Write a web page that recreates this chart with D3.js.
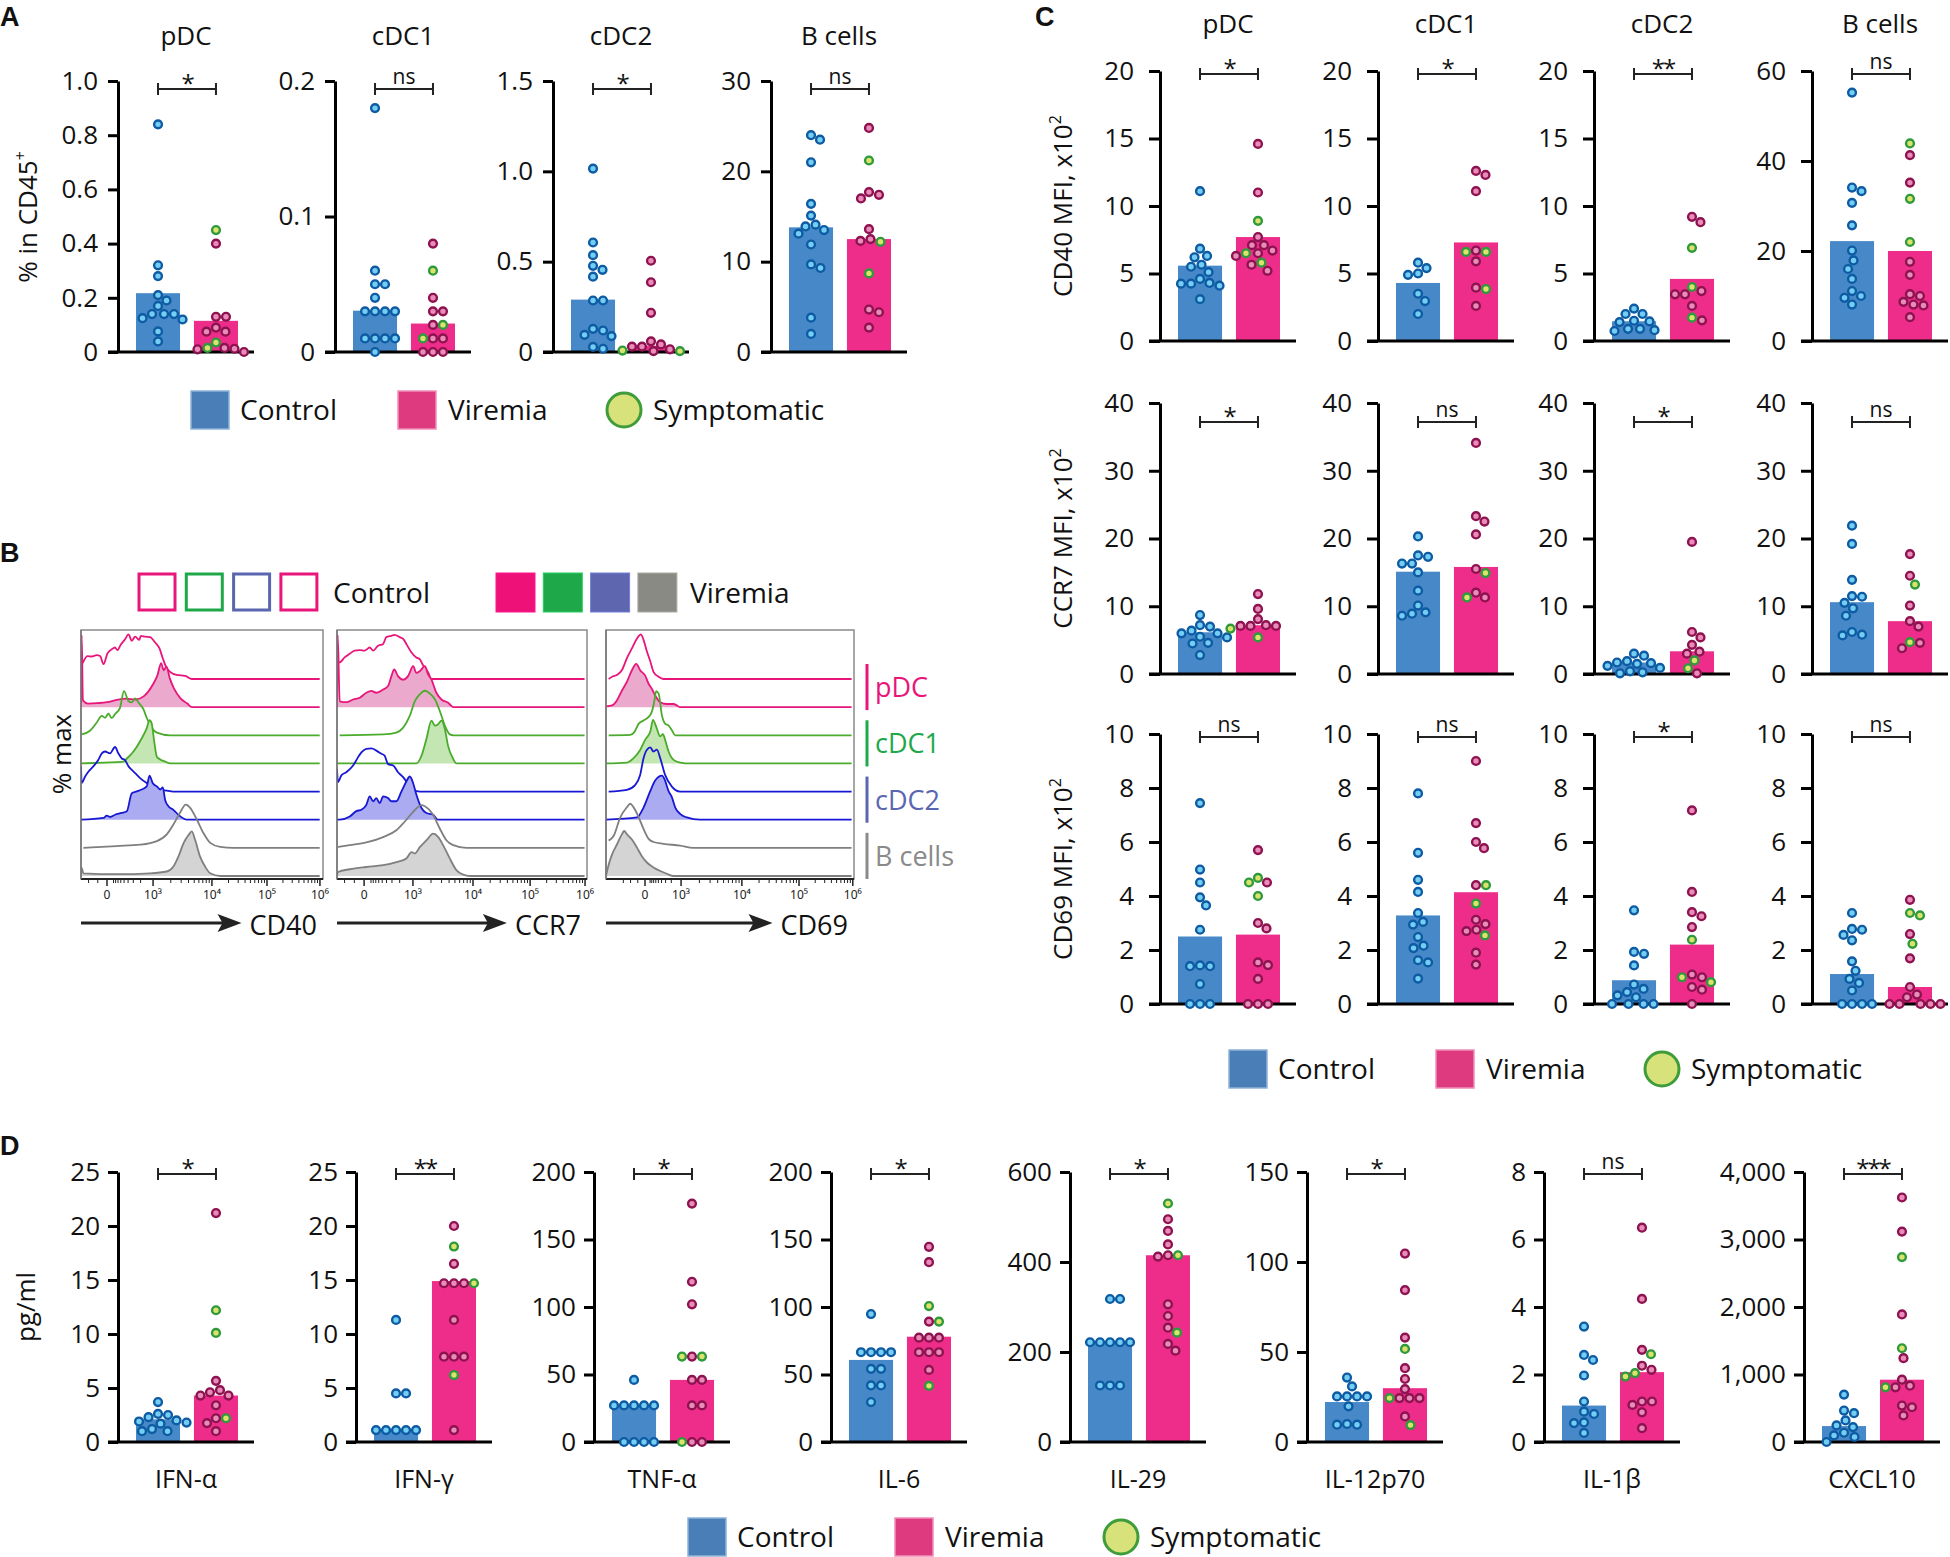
<!DOCTYPE html>
<html><head><meta charset="utf-8">
<script src="https://cdn.jsdelivr.net/npm/d3@7"></script>
<style>body{margin:0;background:#fff;} svg{display:block;}</style>
</head><body><svg id="fig" width="1950" height="1557"></svg>
<script>
// ================= DATA =================
const groups = ["Control", "Viremia"];

// ---- Panel A : % in CD45+ ----
const aCells = ["pDC", "cDC1", "cDC2", "B cells"];
const aYMax = [1.0, 0.2, 1.5, 30];
const aTicks = [[0, 0.2, 0.4, 0.6, 0.8, 1.0], [0, 0.1, 0.2], [0, 0.5, 1.0, 1.5], [0, 10, 20, 30]];
const aTickLabels = [["0", "0.2", "0.4", "0.6", "0.8", "1.0"], ["0", "0.1", "0.2"], ["0", "0.5", "1.0", "1.5"], ["0", "10", "20", "30"]];
const aControl = [
  [0.84, 0.32, 0.28, 0.21, 0.19, 0.17, 0.14, 0.14, 0.14, 0.125, 0.12, 0.076, 0.039],
  [0.18, 0.06, 0.05, 0.05, 0.04, 0.03, 0.03, 0.03, 0.03, 0.01, 0.01, 0.01, 0.01, 0.0],
  [1.015, 0.606, 0.536, 0.477, 0.455, 0.417, 0.285, 0.285, 0.128, 0.119, 0.095, 0.088, 0.028, 0.018],
  [24.0, 23.5, 21.0, 16.4, 15.1, 14.1, 13.9, 13.5, 13.1, 11.9, 9.7, 9.3, 3.8, 2.0]];
const aViremia = [
  [0.40, 0.13, 0.13, 0.09, 0.075, 0.075, 0.012, 0.015, 0.01, 0.0],
  [0.08, 0.04, 0.03, 0.03, 0.02, 0.01, 0.01, 0, 0, 0],
  [0.505, 0.386, 0.217, 0.059, 0.042, 0.03, 0.03, 0.005, 0.015],
  [24.8, 17.7, 17.4, 17.0, 13.6, 12.5, 12.3, 4.7, 4.4, 2.7]];
const aSymptomatic = [[0.45, 0.035, 0.015], [0.06, 0.02, 0.01], [0.008, 0.005], [21.2, 12.2, 8.7]];
const aBarControl = [0.217, 0.0305, 0.29, 13.8];
const aBarViremia = [0.115, 0.021, 0.035, 12.5];
const aSig = ["*", "ns", "*", "ns"];

// ---- Panel C : MFI x10^2 ----
const cCells = ["pDC", "cDC1", "cDC2", "B cells"];
const cMarkers = ["CD40", "CCR7", "CD69"];
const cYMax = [[20, 20, 20, 60], [40, 40, 40, 40], [10, 10, 10, 10]];
const cTicks = [[[0,5,10,15,20],[0,5,10,15,20],[0,5,10,15,20],[0,20,40,60]],
                [[0,10,20,30,40],[0,10,20,30,40],[0,10,20,30,40],[0,10,20,30,40]],
                [[0,2,4,6,8,10],[0,2,4,6,8,10],[0,2,4,6,8,10],[0,2,4,6,8,10]]];
const cd40Control = [
  [11.1, 6.84, 6.3, 6.2, 5.65, 5.5, 5.1, 4.6, 4.3, 4.25, 4.25, 4.1, 3.1],
  [5.8, 5.4, 5.0, 4.9, 3.5, 2.96, 2.0],
  [2.4, 2.0, 2.0, 1.5, 1.45, 1.4, 0.9, 0.9, 0.8, 0.74],
  [55.2, 34.1, 33.3, 30.7, 25.7, 20.1, 17.9, 16.0, 13.8, 11.1, 10.0, 9.6, 8.1]];
const cd40Viremia = [
  [14.6, 11.0, 7.7, 7.1, 7.1, 6.7, 6.5, 6.3, 5.65, 5.2],
  [12.6, 12.3, 11.1, 6.7, 5.9, 3.95, 2.6],
  [9.2, 8.8, 3.7, 3.46, 3.46, 2.6, 1.53],
  [41.3, 35.2, 17.6, 14.7, 10.4, 10.0, 8.7, 8.1, 7.9, 5.3]];
const cd40Symptomatic = [[8.9, 6.5, 5.8], [6.6, 6.6, 3.85], [6.9, 4.0, 1.73], [43.9, 31.6, 22.0]];
const cd40BarControl = [5.58, 4.3, 1.46, 22.2];
const cd40BarViremia = [7.7, 7.3, 4.6, 20.0];
const cd40Sig = ["*", "*", "**", "ns"];

const ccr7Control = [
  [8.7, 7.2, 7.0, 6.4, 6.0, 6.0, 5.5, 5.4, 4.6, 4.5, 2.8],
  [20.3, 17.5, 17.3, 16.3, 16.3, 15.0, 12.3, 10.1, 9.1, 8.9, 8.6],
  [3.0, 2.7, 1.9, 1.7, 1.6, 1.5, 1.2, 0.9, 0.4, 0.25, 0.1],
  [21.9, 19.2, 13.9, 11.5, 11.4, 10.5, 9.7, 8.6, 6.2, 5.8, 5.7]];
const ccr7Viremia = [
  [11.8, 9.6, 8.1, 7.2, 7.1, 7.1, 7.1],
  [34.1, 23.3, 22.5, 20.6, 15.5, 12.0, 11.3],
  [19.5, 6.2, 5.4, 4.3, 3.3, 3.0, 0.1],
  [17.7, 14.5, 10.1, 7.8, 7.0, 4.6, 3.8]];
const ccr7Symptomatic = [[6.7, 5.4], [14.9, 11.3], [2.0, 0.85], [13.2, 4.7]];
const ccr7BarControl = [6.16, 15.1, 1.7, 10.6];
const ccr7BarViremia = [7.2, 15.8, 3.35, 7.8];
const ccr7Sig = ["*", "ns", "*", "ns"];

const cd69Control = [
  [7.44, 4.98, 4.5, 3.95, 3.65, 2.75, 1.43, 1.4, 1.4, 0.74, 0, 0, 0],
  [7.8, 5.6, 4.6, 4.15, 3.37, 3.04, 2.94, 2.48, 2.16, 2.07, 1.62, 1.54, 0.94],
  [3.47, 1.93, 1.86, 1.43, 0.72, 0.56, 0.44, 0.32, 0.25, 0, 0, 0, 0],
  [3.37, 2.78, 2.75, 2.56, 2.36, 1.58, 1.23, 0.93, 0.78, 0.5, 0, 0, 0, 0]];
const cd69Viremia = [
  [5.7, 4.5, 3.0, 2.8, 1.54, 1.44, 0.93, 0, 0, 0],
  [9.0, 6.7, 6.0, 5.77, 4.4, 3.12, 2.96, 2.75, 2.7, 1.9, 1.46],
  [7.17, 4.15, 3.4, 3.25, 2.85, 1.09, 0.99, 0.63, 0.53, 0],
  [3.86, 2.59, 1.69, 0.63, 0.35, 0.25, 0, 0, 0, 0, 0]];
const cd69Symptomatic = [[4.67, 4.5, 4.0], [4.4, 3.72, 2.54], [2.38, 0.99, 0.81], [3.37, 3.28, 2.23]];
const cd69BarControl = [2.5, 3.28, 0.88, 1.11];
const cd69BarViremia = [2.57, 4.14, 2.2, 0.63];
const cd69Sig = ["ns", "ns", "*", "ns"];

// ---- Panel D : cytokines, pg/ml ----
const dCytokines = ["IFN-α", "IFN-γ", "TNF-α", "IL-6", "IL-29", "IL-12p70", "IL-1β", "CXCL10"];
const dYMax = [25, 25, 200, 200, 600, 150, 8, 4000];
const dTicks = [[0,5,10,15,20,25],[0,5,10,15,20,25],[0,50,100,150,200],[0,50,100,150,200],
                [0,200,400,600],[0,50,100,150],[0,2,4,6,8],[0,1000,2000,3000,4000]];
const dTickLabels = [["0","5","10","15","20","25"],["0","5","10","15","20","25"],["0","50","100","150","200"],
                ["0","50","100","150","200"],["0","200","400","600"],["0","50","100","150"],["0","2","4","6","8"],
                ["0","1,000","2,000","3,000","4,000"]];
const dControl = [
  [3.7, 2.6, 2.5, 2.3, 2.0, 1.9, 1.8, 1.7, 1.2, 1.0, 1.0],
  [11.3, 4.5, 4.5, 1.1, 1.1, 1.1, 1.1, 1.1],
  [46, 27.1, 27.1, 27.1, 27.1, 27.1, 0, 0, 0, 0],
  [94.8, 66.5, 66.5, 66.5, 66.5, 54.2, 54.2, 41.9, 41.9, 29.6],
  [317.8, 317.8, 221.7, 221.7, 221.7, 221.7, 221.7, 125.6, 125.6, 125.6],
  [35.8, 30.9, 25.3, 25.3, 25.3, 25.3, 19.8, 10, 9.6, 9.6],
  [3.42, 2.58, 2.43, 1.97, 1.2, 0.9, 0.83, 0.58, 0.56, 0.27],
  [702, 466, 427, 319, 245, 221, 137, 98, 74, 0]];
const dViremia = [
  [21.2, 5.66, 4.8, 4.6, 4.3, 4.3, 3.4, 2.2, 1.75, 1.0],
  [20.0, 16.5, 14.7, 14.7, 14.7, 11.3, 7.9, 7.9, 7.9, 1.1],
  [176.6, 118.7, 102, 63.3, 46, 46, 27.1, 27.1, 0, 0],
  [144.6, 133.2, 89.2, 77.3, 77.3, 77.3, 66.5, 66.5, 66.5, 53.4],
  [495, 469, 439, 415, 412, 306, 280, 254, 218, 203],
  [104.7, 84.4, 58, 41, 35, 29.4, 24.4, 24.4, 24.4, 14.2],
  [6.35, 4.24, 2.73, 2.26, 2.14, 1.2, 1.2, 1.1, 0.88, 0.41],
  [3622, 3117, 1890, 1242, 923, 834, 810, 540, 515, 393]];
const dSymptomatic = [[12.2, 10.1, 2.2], [18.1, 14.7, 6.2], [63.3, 63.3, 0], [100.7, 89.2, 41.6],
                      [530, 415, 243], [51.7, 24.4, 9.4], [2.6, 2.04, 1.94], [2739, 1389, 810]];
const dBarControl = [2.1, 1.14, 27.6, 60.8, 224.7, 22.2, 1.08, 236];
const dBarViremia = [4.3, 14.9, 46, 78, 415, 29.9, 2.07, 923];
const dSig = ["*", "**", "*", "*", "*", "*", "ns", "***"];

// ---- Panel B : flow histograms, [display channel (0-1024), % max] ----
const histTraceNames = ["pDC Control", "pDC Viremia", "cDC1 Control", "cDC1 Viremia", "cDC2 Control", "cDC2 Viremia", "B cells Control", "B cells Viremia"];
const histMarkers = ["CD40", "CCR7", "CD69"];
const histTickLabels = ["0", "10³", "10⁴", "10⁵", "10⁶"];
const histTickChannels = [[110, 305, 554, 787, 1011], [111, 311, 557, 791, 1016], [161, 310, 561, 797, 1019]];
const histCD40 = [
  [[7,35],[27,51],[45,50],[66,53],[81,51],[95,33],[112,57],[130,66],[144,70],[154,64],[168,76],[186,88],[201,99],[215,85],[229,94],[247,87],[253,96],[271,94],[292,93],[314,81],[332,68],[346,46],[360,27],[377,16],[405,9],[441,7],[469,0],[1010,0]],
  [[0,0],[3,160],[8,15],[30,8],[70,9],[110,11],[150,16],[190,19],[230,17],[265,24],[306,52],[323,70],[339,98],[350,82],[362,90],[375,65],[395,40],[420,20],[450,8],[470,0],[1010,0]],
  [[3,2],[38,10],[66,28],[88,43],[102,39],[116,48],[130,38],[144,47],[165,61],[182,98],[201,76],[215,73],[229,82],[243,73],[264,58],[278,39],[299,17],[321,6],[377,0],[1010,0]],
  [[0,0],[100,2],[179,4],[194,11],[215,22],[236,37],[257,56],[278,78],[290,96],[299,89],[309,52],[321,15],[335,9],[356,4],[377,0],[1010,0]],
  [[0,55],[3,19],[17,33],[31,44],[52,56],[73,70],[88,85],[102,89],[123,85],[144,99],[158,85],[172,74],[186,70],[201,56],[215,48],[229,41],[250,30],[278,19],[306,11],[335,5],[363,2],[391,0],[1010,0]],
  [[0,0],[95,4],[109,9],[123,6],[144,11],[172,15],[194,19],[215,59],[236,63],[257,67],[278,74],[290,98],[304,81],[321,74],[335,67],[346,72],[356,44],[370,30],[391,22],[412,11],[448,0],[1010,0]],
  [[10,0],[151,4],[250,7],[321,15],[363,30],[391,52],[419,78],[443,96],[462,89],[490,63],[518,33],[547,11],[589,2],[645,0],[1010,0]],
  [[0,0],[3,18],[10,6],[151,4],[292,6],[363,10],[391,21],[412,43],[434,73],[455,91],[469,99],[483,80],[504,43],[525,21],[547,6],[589,0],[1010,0]]];
const histCCR7 = [
  [[4,37],[11,37],[31,48],[52,56],[72,63],[93,64],[113,63],[134,70],[148,63],[168,74],[189,78],[202,93],[223,96],[236,98],[257,93],[271,89],[284,78],[305,59],[325,48],[339,44],[353,30],[373,15],[387,0],[1014,0]],
  [[0,0],[3,160],[11,13],[38,11],[66,17],[93,21],[120,32],[141,36],[161,32],[189,39],[209,47],[223,69],[234,84],[250,69],[271,61],[291,69],[312,91],[325,76],[339,80],[360,91],[373,73],[387,61],[407,32],[428,17],[455,10],[476,0],[1014,0]],
  [[11,0],[189,2],[243,6],[271,17],[298,43],[319,76],[339,91],[360,99],[380,93],[401,80],[421,54],[442,21],[462,2],[476,0],[1014,0]],
  [[0,0],[325,0],[346,17],[366,54],[387,95],[401,84],[414,87],[428,95],[442,76],[455,39],[476,10],[489,0],[1014,0]],
  [[0,50],[4,21],[18,36],[38,43],[66,58],[86,76],[100,87],[120,95],[141,96],[161,91],[182,84],[195,80],[209,61],[230,58],[250,43],[271,32],[291,17],[312,4],[339,0],[1014,0]],
  [[0,0],[11,0],[52,7],[79,19],[100,22],[120,33],[134,52],[148,41],[161,48],[175,37],[189,52],[209,48],[223,41],[243,41],[264,63],[284,85],[298,96],[312,81],[325,56],[346,26],[366,15],[394,11],[414,0],[1014,0]],
  [[4,2],[52,6],[120,12],[189,24],[243,39],[277,58],[312,80],[346,95],[373,87],[394,73],[421,43],[448,17],[476,6],[530,0],[1014,0]],
  [[0,0],[4,9],[52,15],[120,20],[189,24],[243,31],[284,39],[305,53],[319,50],[339,64],[366,79],[394,94],[414,87],[435,68],[462,39],[489,13],[517,3],[544,0],[1014,0]]];
const histCD69 = [
  [[11,0],[25,5],[45,9],[66,20],[86,46],[107,68],[128,90],[144,99],[155,87],[169,61],[183,39],[196,16],[217,5],[237,0],[1014,0]],
  [[0,0],[4,2],[25,4],[45,15],[66,37],[86,56],[107,82],[125,96],[141,82],[162,70],[176,52],[189,41],[203,26],[224,11],[251,7],[279,7],[292,4],[306,0],[1014,0]],
  [[11,0],[100,1],[117,7],[135,26],[155,33],[176,41],[189,52],[199,74],[207,98],[217,93],[231,44],[244,26],[258,22],[272,11],[286,0],[1014,0]],
  [[0,0],[86,2],[114,12],[141,30],[162,53],[183,71],[194,97],[207,82],[224,60],[235,65],[246,49],[258,27],[279,8],[306,2],[347,0],[1014,0]],
  [[11,0],[86,4],[121,15],[141,37],[155,74],[169,93],[183,98],[196,89],[210,93],[224,74],[244,37],[272,11],[306,0],[1014,0]],
  [[0,0],[128,5],[155,27],[183,64],[203,87],[231,98],[244,87],[258,64],[272,50],[286,27],[306,13],[334,5],[388,0],[1014,0]],
  [[11,16],[32,27],[59,68],[86,90],[100,98],[114,90],[135,68],[155,42],[176,20],[196,13],[237,9],[306,5],[361,0],[1014,0]],
  [[0,0],[8,19],[25,48],[45,70],[66,93],[75,100],[86,93],[107,81],[128,63],[148,44],[169,30],[196,19],[224,11],[251,5],[279,0],[1014,0]]];

// ================= STYLE / LAYOUT =================
const FONT = "'Open Sans', 'Noto Sans', sans-serif";
const BOLD = "'Liberation Sans', Arial, sans-serif";
const COL = {ctrlBar: "#4789c8", virBar: "#ee2d8b",
  ctrlFill: "#74cdf2", ctrlStroke: "#0d5ba3", virFill: "#e98cb9", virStroke: "#8e1250",
  symFill: "#dbe36c", symStroke: "#2e9a3c",
  legCtrl: "#4a7eb6", legVir: "#de3a80", legSymFill: "#d8e27a", legSymStroke: "#3f9c3a"};
const cellColors = ["#e8157a", "#4bab2c", "#1717d4", "#7f7f7f"];
const cellFills = ["#eaa9cd", "#c3e6b2", "#aaabf0", "#d4d4d4"];
const cellLabelColors = ["#e8157a", "#1ea84a", "#5a66b0", "#8a8a8a"];
const legendOutline = ["#e8157a", "#1ea84a", "#5a66b0", "#e8157a"];
const legendFilled = ["#ee1177", "#1ea84a", "#5d66ae", "#8a8a85"];

const svg = d3.select("#fig");

function swarm(items, cx, y, d) {
  const placed = [];
  const sorted = items.slice().sort((a, b) => b.v - a.v);
  for (const it of sorted) {
    const py = y(it.v);
    for (let k = 0; k < 400; k++) {
      const off = k === 0 ? 0 : ((k % 2) ? 1 : -1) * Math.ceil(k / 2) * 0.5;
      const px = cx + off;
      if (placed.every(p => (p.x - px) ** 2 + (p.y - py) ** 2 >= d * d)) {
        placed.push(Object.assign({}, it, {x: px, y: py}));
        break;
      }
    }
  }
  return placed;
}

function drawBarPlot(o) {
  const g = svg.append("g");
  const y = d3.scaleLinear().domain([0, o.yMax]).range([o.yZero, o.yTop]);
  const xb = d3.scaleBand().domain(groups).range([o.x + 18, o.x + 120]).paddingInner(0.24).paddingOuter(0);
  const bw = xb.bandwidth();
  const cC = xb("Control") + bw / 2, cV = xb("Viremia") + bw / 2;
  g.append("rect").attr("x", xb("Control")).attr("width", bw).attr("y", y(o.barC))
    .attr("height", y(0) - y(o.barC)).attr("fill", COL.ctrlBar);
  g.append("rect").attr("x", xb("Viremia")).attr("width", bw).attr("y", y(o.barV))
    .attr("height", y(0) - y(o.barV)).attr("fill", COL.virBar);
  // axes
  const axis = d3.axisLeft(y).tickValues(o.ticks).tickFormat((d, i) => o.tickLabels[i])
    .tickSizeInner(o.tickSize).tickSizeOuter(0).tickPadding(o.tickPad);
  const ag = g.append("g").attr("transform", `translate(${o.x},0)`).call(axis);
  ag.select(".domain").attr("stroke", "#000").attr("stroke-width", 3);
  ag.selectAll(".tick line").attr("stroke", "#000").attr("stroke-width", 3);
  ag.selectAll(".tick text").attr("font-size", 26).attr("font-family", FONT).attr("fill", "#111");
  g.append("line").attr("x1", o.x - o.tickSize).attr("x2", o.x + 136).attr("y1", y(0)).attr("y2", y(0))
    .attr("stroke", "#000").attr("stroke-width", 3);
  // points
  const pc = swarm(o.control.map(v => ({v, s: false})), cC, y, 10);
  const pv = swarm(o.viremia.map(v => ({v, s: false})).concat(o.symptomatic.map(v => ({v, s: true}))), cV, y, 10);
  g.selectAll(null).data(pc).join("circle").attr("cx", d => d.x).attr("cy", d => d.y).attr("r", 3.9)
    .attr("fill", COL.ctrlFill).attr("stroke", COL.ctrlStroke).attr("stroke-width", 2.4);
  g.selectAll(null).data(pv).join("circle").attr("cx", d => d.x).attr("cy", d => d.y).attr("r", 3.9)
    .attr("fill", d => d.s ? COL.symFill : COL.virFill).attr("stroke", d => d.s ? COL.symStroke : COL.virStroke)
    .attr("stroke-width", 2.4);
  // bracket
  const by = o.yTop + o.bracketOff;
  g.append("path").attr("d", `M${cC},${by - 6}V${by + 6}M${cC},${by}H${cV}M${cV},${by - 6}V${by + 6}`)
    .attr("stroke", "#222").attr("stroke-width", 2).attr("fill", "none");
  const isStar = o.sig !== "ns";
  g.append("text").attr("x", (cC + cV) / 2).attr("y", isStar ? by + 3 : by - 5)
    .attr("text-anchor", "middle").attr("font-family", FONT).attr("font-size", isStar ? 24 : 21)
    .attr("letter-spacing", isStar ? -2 : 0).attr("fill", "#111").text(o.sig);
  if (o.title) g.append("text").attr("x", o.x + 68).attr("y", o.titleY).attr("text-anchor", "middle")
    .attr("font-family", FONT).attr("font-size", 26).attr("fill", "#111").text(o.title);
  if (o.bottomLabel) g.append("text").attr("x", o.x + 68).attr("y", o.bottomY).attr("text-anchor", "middle")
    .attr("font-family", FONT).attr("font-size", 25).attr("fill", "#111").text(o.bottomLabel);
}

function rotLabel(x, y, main, sup) {
  const t = svg.append("text").attr("transform", `translate(${x},${y}) rotate(-90)`).attr("text-anchor", "middle")
    .attr("font-family", FONT).attr("font-size", 26).attr("fill", "#111");
  t.append("tspan").text(main);
  if (sup) t.append("tspan").attr("font-size", 16).attr("dy", -11).text(sup);
}

function legend(x0, cy) {
  const g = svg.append("g").attr("font-family", FONT).attr("font-size", 28).attr("fill", "#111");
  g.append("rect").attr("x", x0).attr("y", cy - 19).attr("width", 38).attr("height", 38)
    .attr("fill", COL.legCtrl).attr("stroke", "#8fb3d9").attr("stroke-width", 1.5);
  g.append("text").attr("x", x0 + 49).attr("y", cy + 10).text(groups[0]);
  g.append("rect").attr("x", x0 + 207).attr("y", cy - 19).attr("width", 38).attr("height", 38)
    .attr("fill", COL.legVir).attr("stroke", "#ef8fb8").attr("stroke-width", 1.5);
  g.append("text").attr("x", x0 + 257).attr("y", cy + 10).text(groups[1]);
  g.append("circle").attr("cx", x0 + 433).attr("cy", cy).attr("r", 17)
    .attr("fill", COL.legSymFill).attr("stroke", COL.legSymStroke).attr("stroke-width", 3);
  g.append("text").attr("x", x0 + 462).attr("y", cy + 10).text("Symptomatic");
}

function panelLetter(t, x, y) {
  svg.append("text").attr("x", x).attr("y", y).attr("font-family", BOLD).attr("font-weight", "bold")
    .attr("font-size", 27).attr("fill", "#111").text(t);
}

// ================= PANEL A =================
panelLetter("A", 0, 26);
const aAxisX = [118, 335, 553, 771];
aCells.forEach((c, i) => drawBarPlot({
  x: aAxisX[i], yTop: 81, yZero: 352, yMax: aYMax[i], ticks: aTicks[i], tickLabels: aTickLabels[i],
  tickSize: 10, tickPad: 10, control: aControl[i], viremia: aViremia[i], symptomatic: aSymptomatic[i],
  barC: aBarControl[i], barV: aBarViremia[i], sig: aSig[i], bracketOff: 8, title: c, titleY: 45}));
rotLabel(37, 217, "% in CD45", "+");
legend(191, 410);

// ================= PANEL C =================
panelLetter("C", 1035, 26);
const cAxisX = [1160, 1378, 1594, 1812];
const cTop = [71, 403, 734], cZero = [341, 674, 1004], cBracket = [3, 19, 3];
const cRows = [
  [cd40Control, cd40Viremia, cd40Symptomatic, cd40BarControl, cd40BarViremia, cd40Sig],
  [ccr7Control, ccr7Viremia, ccr7Symptomatic, ccr7BarControl, ccr7BarViremia, ccr7Sig],
  [cd69Control, cd69Viremia, cd69Symptomatic, cd69BarControl, cd69BarViremia, cd69Sig]];
cRows.forEach((row, r) => {
  cCells.forEach((c, i) => drawBarPlot({
    x: cAxisX[i], yTop: cTop[r], yZero: cZero[r], yMax: cYMax[r][i], ticks: cTicks[r][i],
    tickLabels: cTicks[r][i].map(String), tickSize: 11, tickPad: 15,
    control: row[0][i], viremia: row[1][i], symptomatic: row[2][i], barC: row[3][i], barV: row[4][i],
    sig: row[5][i], bracketOff: cBracket[r], title: r === 0 ? c : null, titleY: 33}));
  rotLabel(1072, (cTop[r] + cZero[r]) / 2, cMarkers[r] + " MFI, x10", "2");
});
legend(1229, 1069);

// ================= PANEL D =================
panelLetter("D", 0, 1155);
const dAxisX = [118, 356, 594, 831, 1070, 1307, 1544, 1804];
dCytokines.forEach((c, i) => drawBarPlot({
  x: dAxisX[i], yTop: 1172, yZero: 1442, yMax: dYMax[i], ticks: dTicks[i], tickLabels: dTickLabels[i],
  tickSize: 10, tickPad: 8, control: dControl[i], viremia: dViremia[i], symptomatic: dSymptomatic[i],
  barC: dBarControl[i], barV: dBarViremia[i], sig: dSig[i], bracketOff: 2, bottomLabel: c, bottomY: 1488}));
rotLabel(35, 1307, "pg/ml");
legend(688, 1537);

// ================= PANEL B =================
panelLetter("B", 0, 562);
legendOutline.forEach((c, i) => svg.append("rect").attr("x", 139 + i * 47.3).attr("y", 574)
  .attr("width", 36).attr("height", 36).attr("fill", "none").attr("stroke", c).attr("stroke-width", 3));
svg.append("text").attr("x", 333).attr("y", 603).attr("font-family", FONT).attr("font-size", 28).attr("fill", "#111").text("Control");
legendFilled.forEach((c, i) => svg.append("rect").attr("x", 496 + i * 47.3).attr("y", 573)
  .attr("width", 39).attr("height", 39).attr("fill", c).attr("stroke", d3.color(c).brighter(0.6)).attr("stroke-width", 1));
svg.append("text").attr("x", 690).attr("y", 603).attr("font-family", FONT).attr("font-size", 28).attr("fill", "#111").text("Viremia");

const histPanels = [[81, 323, histCD40], [337, 587, histCCR7], [606, 854, histCD69]];
const hTop = 630, hBottom = 879;
let lastBase = null;
histPanels.forEach(([left, right, traces], p) => {
  const g = svg.append("g");
  const x = d3.scaleLinear().domain([0, 1024]).range([left, right]);
  const base = d3.scalePoint().domain(histTraceNames).range([hTop + 49, hTop + 246]);
  lastBase = base;
  const h = d3.scaleLinear().domain([0, 100]).range([0, 45]);
  g.append("rect").attr("x", left).attr("y", hTop).attr("width", right - left).attr("height", hBottom - hTop)
    .attr("fill", "#fff").attr("stroke", "#8a8a8a").attr("stroke-width", 1.5);
  const clipId = "clip" + p;
  g.append("clipPath").attr("id", clipId).append("rect").attr("x", left).attr("y", hTop)
    .attr("width", right - left).attr("height", hBottom - hTop);
  const tg = g.append("g").attr("clip-path", `url(#${clipId})`);
  histTraceNames.forEach((name, i) => {
    const b = base(name);
    const col = cellColors[Math.floor(i / 2)];
    const data = traces[i];
    if (i % 2 === 1) {
      const area = d3.area().x(d => x(d[0])).y0(b).y1(d => b - h(d[1])).curve(d3.curveMonotoneX);
      tg.append("path").attr("d", area(data)).attr("fill", cellFills[Math.floor(i / 2)]);
    }
    const line = d3.line().x(d => x(d[0])).y(d => b - h(d[1])).curve(d3.curveMonotoneX);
    tg.append("path").attr("d", line(data)).attr("fill", "none").attr("stroke", col).attr("stroke-width", 1.8);
  });
  g.append("line").attr("x1", left).attr("x2", right).attr("y1", hBottom).attr("y2", hBottom)
    .attr("stroke", "#222").attr("stroke-width", 2);
  g.append("line").attr("x1", left).attr("x2", left).attr("y1", hTop).attr("y2", hBottom)
    .attr("stroke", "#777").attr("stroke-width", 1.5);
  const tch = histTickChannels[p];
  const minor = [];
  for (let k = 1; k < tch.length - 1; k++) for (let m = 2; m <= 9; m++) minor.push(tch[k] + (tch[k + 1] - tch[k]) * Math.log10(m));
  for (let m = 2; m <= 9; m++) minor.push(tch[1] - (tch[1] - tch[0]) * Math.log10(m) * 0.9);
  for (let m = 1; m <= 3; m++) minor.push(tch[0] - (tch[1] - tch[0]) * 0.2 * m);
  g.selectAll(null).data(minor.filter(c => c > 0 && c < 1024)).join("line")
    .attr("x1", d => x(d)).attr("x2", d => x(d)).attr("y1", hBottom).attr("y2", hBottom + 4)
    .attr("stroke", "#222").attr("stroke-width", 1);
  g.selectAll(null).data(tch).join("line")
    .attr("x1", d => x(d)).attr("x2", d => x(d)).attr("y1", hBottom).attr("y2", hBottom + 7)
    .attr("stroke", "#222").attr("stroke-width", 1.5);
  g.selectAll(null).data(tch).join("text")
    .attr("x", d => x(d)).attr("y", 899).attr("text-anchor", "middle")
    .attr("font-family", "'Noto Sans', sans-serif").attr("font-size", 12).attr("fill", "#222")
    .text((d, k) => histTickLabels[k]);
  const lbl = g.append("text").attr("x", right - 6).attr("y", 935).attr("text-anchor", "end")
    .attr("font-family", FONT).attr("font-size", 27).attr("fill", "#111").text(histMarkers[p]);
  const lw = lbl.node().getComputedTextLength();
  const ax2 = right - 6 - lw - 8;
  g.append("line").attr("x1", left).attr("x2", ax2 - 18).attr("y1", 923).attr("y2", 923)
    .attr("stroke", "#222").attr("stroke-width", 3);
  g.append("path").attr("d", `M${ax2 - 24},${914}L${ax2},${923}L${ax2 - 24},${932}L${ax2 - 19},${923}Z`).attr("fill", "#222");
});
rotLabel(71, 754, "% max");
aCells.forEach((c, i) => {
  const y1 = lastBase(histTraceNames[2 * i]) - 15, y2 = lastBase(histTraceNames[2 * i + 1]) + 3;
  svg.append("line").attr("x1", 867).attr("x2", 867).attr("y1", y1).attr("y2", y2)
    .attr("stroke", cellLabelColors[i]).attr("stroke-width", 3);
  svg.append("text").attr("x", 875).attr("y", (y1 + y2) / 2 + 10).attr("font-family", FONT)
    .attr("font-size", 27).attr("fill", cellLabelColors[i]).text(c);
});
</script></body></html>
